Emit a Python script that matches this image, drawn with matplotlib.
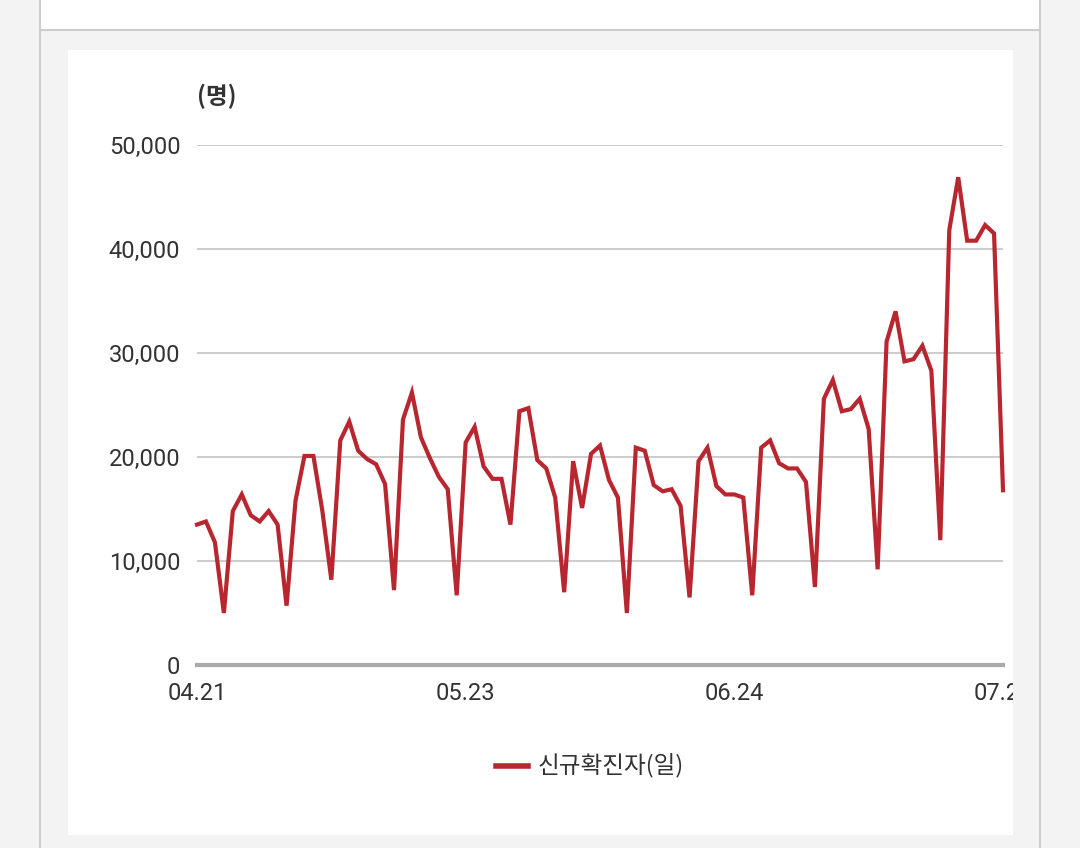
import matplotlib
matplotlib.use("Agg")
import matplotlib.pyplot as plt
from matplotlib.patches import Rectangle
from matplotlib.lines import Line2D

plt.rcParams['font.family'] = ['Roboto', 'Noto Sans CJK KR', 'DejaVu Sans']

values = [13500,13800,11800,5000,14800,16400,14400,13800,14800,13500,
          5700,15800,20100,20100,14800,8200,21600,23400,20600,19800,
          19300,17400,7200,23600,26200,21900,19900,18100,16900,6700,
          21400,22900,19100,17900,17900,13500,24400,24700,19700,18900,
          16100,7000,19600,15100,20300,21100,17800,16100,5000,20900,
          20600,17300,16700,16900,15300,6500,19600,20900,17200,16400,
          16400,16100,6700,20900,21600,19400,18900,18900,17600,7500,
          25600,27400,24400,24600,25600,22700,9200,31100,34000,29200,
          29400,30700,28300,12000,41800,46900,40800,40800,42300,41500,16800]
tick_pos = [0, 30, 60, 90]
tick_labels = ["04.21", "05.23", "06.24", "07.26"]
yticks = [0, 10000, 20000, 30000, 40000, 50000]
series_name = "신규확진자(일)"

W, H = 1080, 848
fig = plt.figure(figsize=(10.8, 8.48), dpi=100)
fig.patch.set_facecolor('#f3f3f3')
fig.add_artist(Rectangle((40/W, 1-30/H), 1000/W, 30/H, transform=fig.transFigure,
                         facecolor='white', edgecolor='none', zorder=-2))
fig.add_artist(Line2D([40/W, 1040/W], [1-30/H, 1-30/H], transform=fig.transFigure, color='#cccccc', lw=1.5, zorder=-1))
for xx in (40, 1040):
    fig.add_artist(Line2D([xx/W, xx/W], [0, 1], transform=fig.transFigure, color='#cccccc', lw=1.5, zorder=-1))
panel = Rectangle((68/W, 1-835/H), (1013-68)/W, (835-50)/H, transform=fig.transFigure,
                  facecolor='white', edgecolor='none', zorder=-1)
fig.add_artist(panel)

ax = fig.add_axes([197/W, 1-665/H, (1003-197)/W, (665-145)/H])
ax.set_facecolor('none')
ax.plot(range(len(values)), values, color='#b8262f', lw=3, solid_joinstyle='miter', clip_on=False, zorder=3)
ax.set_xlim(0, 90)
ax.set_ylim(0, 50000)
ax.set_yticks(yticks)
ax.set_yticklabels([f"{v:,}" for v in yticks])
ax.set_xticks(tick_pos)
ax.set_xticklabels(tick_labels)
for s in ax.spines.values():
    s.set_visible(False)
ax.grid(axis='y', color='#c8c8c8', lw=1.3)
ax.axhline(0, color='#aaaaaa', lw=3, clip_on=False, zorder=2)
ax.tick_params(length=0, labelsize=17, colors='#333333')
ax.tick_params(axis='y', pad=12)
ax.tick_params(axis='x', pad=12)
for lab in ax.get_xticklabels():
    lab.set_clip_path(panel)
ax.text(0, 1.07, "(명)", transform=ax.transAxes, fontsize=17, fontweight='bold', color='#333333',
        ha='left', va='bottom', family=['Noto Sans CJK KR', 'DejaVu Sans'])
fig.add_artist(Line2D([496/W, 528/W], [1-766/H]*2, transform=fig.transFigure, color='#b8262f', lw=4))
fig.text(538/W, 1-766/H, series_name, fontsize=17, color='#333333', va='center', ha='left',
         family=['Noto Sans CJK KR', 'DejaVu Sans'])
fig.savefig("out.png", dpi=100, facecolor=fig.get_facecolor())
